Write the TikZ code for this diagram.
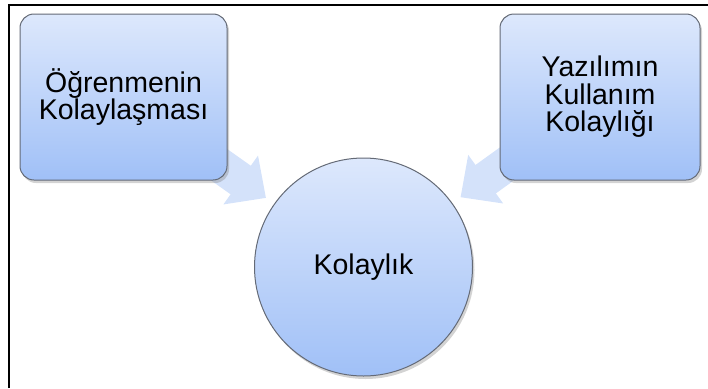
\documentclass[tikz,border=0pt]{standalone}
\usepackage{fontspec}
\setmainfont{Liberation Sans}
\usetikzlibrary{arrows.meta,shadows,backgrounds}

\definecolor{boxtop}{RGB}{221,232,252}
\definecolor{boxbottom}{RGB}{160,192,247}
\definecolor{boxline}{RGB}{100,106,118}
\definecolor{arrowfill}{RGB}{212,226,250}

\tikzset{
  ideabox/.style={rectangle, rounded corners=14pt, draw=boxline, line width=1pt,
    top color=boxtop, bottom color=boxbottom, align=center, inner sep=0pt,
    drop shadow={shadow xshift=2pt, shadow yshift=-3pt, opacity=0.35},
    font=\fontsize{28.5}{27.5}\selectfont},
  hubcircle/.style={circle, draw=boxline, line width=1pt,
    top color=boxtop, bottom color=boxbottom, inner sep=0pt,
    drop shadow={shadow xshift=2pt, shadow yshift=-3pt, opacity=0.35},
    font=\fontsize{28.5}{27.5}\selectfont},
  fatarrow/.style={draw=arrowfill, line width=35pt,
    -{Triangle[length=31pt, width=58pt]}, shorten >=10pt, shorten <=-40pt},
}

\begin{document}
\begin{tikzpicture}[x=1pt,y=-1pt]
    \useasboundingbox (0,0) rectangle (708,388);
    \coordinate (frametop) at (708,5);
    \coordinate (framecorner) at (9,5);
    \coordinate (framebottom) at (9,388);
    \draw[line width=1.2pt] (framebottom) -- (framecorner) -- (frametop);

    \node[ideabox, minimum width=207, minimum height=166] (learn) at (123.5,97)
        {Öğrenmenin\\Kolaylaşması};
    \node[ideabox, minimum width=200, minimum height=166] (usage) at (600,97)
        {Yazılımın\\Kullanım\\Kolaylığı};
    \node[hubcircle, minimum size=218] (hub) at (363.5,267) {Kolaylık};

    \begin{scope}[on background layer]
        \draw[fatarrow] (learn) -- (hub);
        \draw[fatarrow] (usage) -- (hub);
    \end{scope}
\end{tikzpicture}
\end{document}
